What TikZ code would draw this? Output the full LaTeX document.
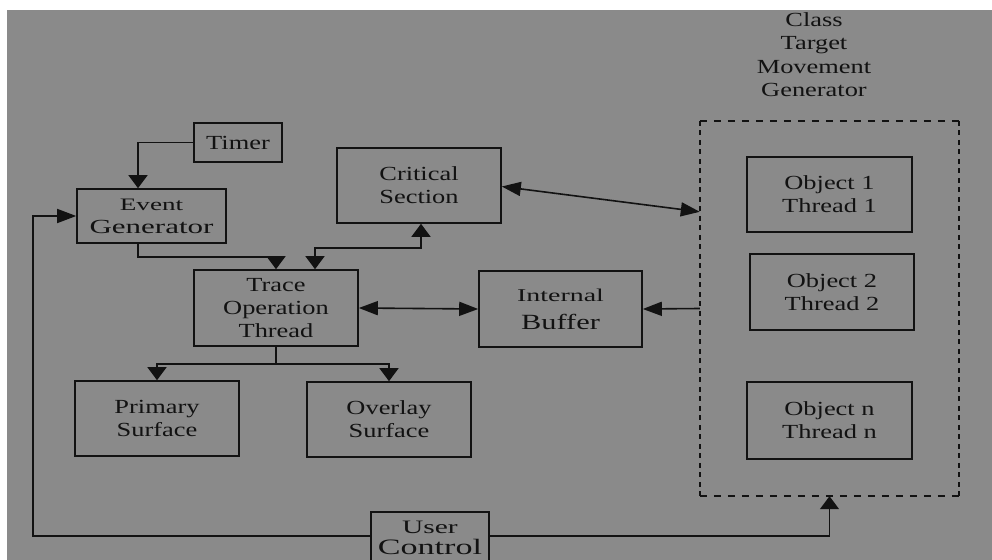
\documentclass[tikz,border=0pt]{standalone}
\usepackage{fontspec}
\setmainfont{Liberation Serif}
% horizontally widened faces for the labels
\newfontfamily\plainface[FakeStretch=1.32]{Liberation Serif}
\newfontfamily\wideface[FakeStretch=1.55]{Liberation Serif}
\newfontfamily\midface[FakeStretch=1.40]{Liberation Serif}
\usetikzlibrary{arrows.meta,calc}
\definecolor{panel}{RGB}{138,138,138}
\definecolor{ink}{RGB}{18,18,18}
\tikzset{
  vtip/.tip={Triangle[length=13bp,width=19bp]},
  htip/.tip={Triangle[length=19bp,width=14bp]},
}
\begin{document}
\begin{tikzpicture}[x=1bp,y=-1bp,
  box/.style={draw=ink, line width=1.6bp, inner sep=0pt, align=center, text=ink,
    font=\plainface\fontsize{20bp}{23bp}\selectfont},
  wire/.style={draw=ink, line width=1.6bp},
  hdash/.style={wire, dash pattern=on 7bp off 7bp},
  vdash/.style={wire, dash pattern=on 5bp off 4.5bp},
]
\useasboundingbox (0,0) rectangle (992,560);
\fill[white] (0,0) rectangle (992,560);
\fill[panel] (7,10) rectangle (992,560);

% blocks
\node[box, minimum width=88bp, minimum height=39bp] (timer) at (238,142.5) {Timer};
\node[box, minimum width=149bp, minimum height=54bp] (event) at (151.5,216)
  {{\wideface\fontsize{17.5bp}{23bp}\selectfont Event}\\{\wideface Generator}};
\node[box, minimum width=164bp, minimum height=75bp] (crit) at (419,185.5) {Critical\\Section};
\node[box, minimum width=164bp, minimum height=76bp] (trace) at (276,308) {Trace\\Operation\\Thread};
\node[box, minimum width=163bp, minimum height=76bp,
  font=\plainface\fontsize{20bp}{28bp}\selectfont] (buffer) at (560.5,309)
  {{\wideface\fontsize{18bp}{28bp}\selectfont Internal}\\{\midface\fontsize{21.7bp}{28bp}\selectfont Buffer}};
\node[box, minimum width=164bp, minimum height=75bp] (primary) at (157,418.5) {Primary\\Surface};
\node[box, minimum width=164bp, minimum height=75bp] (overlay) at (389,419.5) {Overlay\\Surface};
\node[box, minimum width=118bp, minimum height=52bp,
  font=\plainface\fontsize{20bp}{20.5bp}\selectfont] (user) at (430,538)
  {{\wideface\fontsize{19bp}{20.5bp}\selectfont User}\\{\wideface\fontsize{22bp}{20.5bp}\selectfont Control}};

% class group with its object threads
\node[inner sep=0pt, minimum width=259bp, minimum height=375bp] (grp) at (829.5,308.5) {};
\draw[hdash] (grp.north west) -- (grp.north east);
\draw[hdash] (grp.south west) -- (grp.south east);
\draw[vdash] (grp.north west) -- (grp.south west);
\draw[vdash] (grp.north east) -- (grp.south east);
\node[anchor=north, inner sep=0pt, align=center, text=ink,
  font=\plainface\fontsize{20bp}{23.3bp}\selectfont] (title) at (814,12.5)
  {Class\\Target\\Movement\\Generator};
\node[box, minimum width=165bp, minimum height=75bp] (obj1) at (829.5,194.5) {Object 1\\Thread 1};
\node[box, minimum width=164bp, minimum height=76bp] (obj2) at (832,292) {Object 2\\Thread 2};
\node[box, minimum width=165bp, minimum height=77bp] (objn) at (829.5,420.5) {Object n\\Thread n};

% connectors
\coordinate (loopL) at (33,536);
\draw[wire, -vtip] (timer.west) -| ($(event.north)+(-13.5,0)$);
\draw[wire, -htip] (loopL -| user.west) -- (loopL) |- (event.west);
\draw[wire, -vtip] (loopL -| user.east) -| (grp.south);
\draw[wire, -vtip] ($(event.south)+(-13.5,0)$) -- ++(0,13) -| (trace.north);
\draw[wire, vtip-vtip] ($(crit.south)+(2,0)$) -- ++(0,24) -| ($(trace.north)+(39,0)$);
\draw[wire, htip-htip] ($(crit.east)+(0,1)$) -- ($(grp.north west)+(0,91)$);
\draw[wire, htip-htip] (trace.east) -- (buffer.west);
\draw[wire, -htip] (grp.west) -- (buffer.east);
\draw[wire, -vtip] (trace.south) -- ++(0,17) -| (primary.north);
\draw[wire, -vtip] (trace.south) -- ++(0,17) -| (overlay.north);
\end{tikzpicture}
\end{document}
